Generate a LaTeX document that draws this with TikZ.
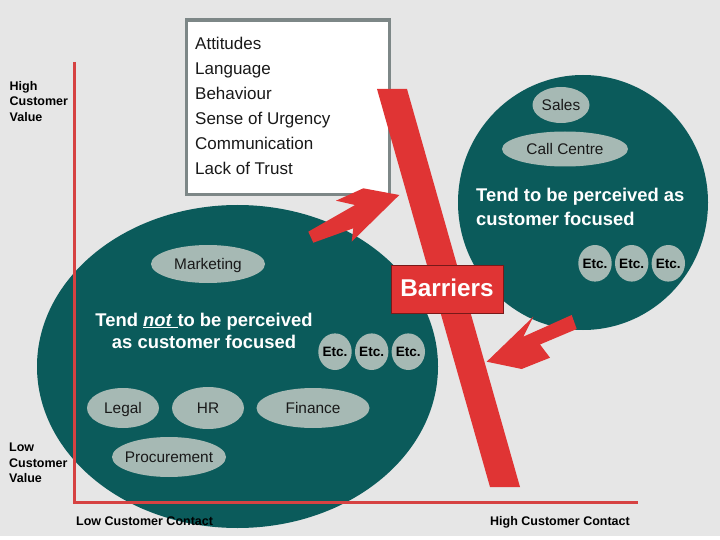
\documentclass[tikz,border=0pt]{standalone}
\usepackage{fontspec}
\setmainfont{Liberation Sans}
\usetikzlibrary{shapes.geometric}
\definecolor{bgc}{RGB}{230,230,230}
\definecolor{tealc}{RGB}{11,91,91}
\definecolor{pillc}{RGB}{166,185,180}
\definecolor{redc}{RGB}{224,52,52}
\definecolor{axisc}{RGB}{214,66,66}
\definecolor{boxc}{RGB}{125,135,135}
\definecolor{inkc}{RGB}{25,25,25}
\newcommand{\myfs}[1]{\fontsize{#1}{#1}\selectfont}
\newcommand{\zw}[1]{\makebox[0pt]{#1}}
\begin{document}
\begin{tikzpicture}[x=1pt,y=-1pt,
  pill/.style={ellipse, fill=pillc, inner sep=0pt, text=inkc,
    font=\myfs{15.4}, text height=11pt, text depth=0pt},
  etc/.style={ellipse, fill=pillc, inner sep=0pt, text=black,
    minimum width=33.4pt, minimum height=36.6pt,
    font=\myfs{13.6}\bfseries, text height=10pt, text depth=0pt},
  listtxt/.style={anchor=base west, inner sep=0pt, text=inkc, font=\myfs{17}},
  axtxt/.style={anchor=base west, inner sep=0pt, text=black, font=\myfs{12.5}\bfseries},
  bigtxt/.style={inner sep=0pt, text=white, font=\myfs{18.4}\bfseries},
  redarrow/.style={fill=redc}
]
\useasboundingbox (0,0) rectangle (720,540);
\fill[white] (0,0) rectangle (720,540);
\fill[bgc] (0,0) rectangle (720,536);

% big ellipse and right circle
\fill[tealc] (237.5,366.5) ellipse [x radius=200.5, y radius=161.5];
\fill[tealc] (583,202.5) ellipse [x radius=125, y radius=127.5];

% axes
\coordinate (ytop) at (74,62);
\coordinate (orig) at (74,502);
\coordinate (xend) at (638,502);
\draw[axisc, line width=3pt] (ytop) -- (orig) -- (xend);

% list box
\node[draw=boxc, line width=3.5pt, fill=white, minimum width=203pt, minimum height=174.5pt,
  inner sep=0pt, anchor=north west] (listbox) at (184.5,18.5) {};
\node[listtxt] (l1) at (195,50) {Attitudes};
\node[listtxt] (l2) at (195,75) {Language};
\node[listtxt] (l3) at (195,100) {Behaviour};
\node[listtxt] (l4) at (195,125) {Sense of Urgency};
\node[listtxt] (l5) at (195,150) {Communication};
\node[listtxt] (l6) at (195,175) {Lack of Trust};

% barrier bar
\fill[redc] (377,89) -- (407,89) -- (520,487) -- (490,487) -- cycle;

% arrows
\fill[redarrow] (308.3,231.7) -- (355,205) -- (336,200.7) -- (363.3,188.3) -- (399.3,195)
  -- (351.7,241.7) -- (353.3,228.3) -- (313.3,242.7) -- cycle;
\fill[redarrow] (571.7,315) -- (523.3,336.7) -- (533.3,316.7) -- (486.7,361.7)
  -- (521.7,369) -- (550,357.7) -- (540,344.5) -- (576.7,329) -- cycle;

% Barriers box
\node[draw={rgb,255:red,120;green,25;blue,25}, line width=0.8pt, fill=redc,
  minimum width=112pt, minimum height=48pt, inner sep=0pt] (barriers) at (447,289) {};
\node[anchor=base, inner sep=0pt, text=white, font=\myfs{24.3}\bfseries] (barrierstxt)
  at (447,296.7) {Barriers};

% left ellipse contents
\node[pill, minimum width=114pt, minimum height=38pt] (marketing) at (208,264) {\zw{Marketing}};
\node[bigtxt, anchor=base] (nt1) at (204,326) {Tend \underline{\textit{not} }to be perceived};
\node[bigtxt, anchor=base] (nt2) at (204,348.3) {as customer focused};
\node[etc] (le1) at (335,351.7) {\zw{Etc.}};
\node[etc] (le2) at (371.7,351.7) {\zw{Etc.}};
\node[etc] (le3) at (408.3,351.7) {\zw{Etc.}};
\node[pill, minimum width=72pt, minimum height=40pt] (legal) at (123,408) {\zw{Legal}};
\node[pill, minimum width=72pt, minimum height=42pt] (hr) at (208,408) {\zw{HR}};
\node[pill, minimum width=113pt, minimum height=40pt] (finance) at (313,408) {\zw{Finance}};
\node[pill, minimum width=114pt, minimum height=40pt] (procurement) at (169,457) {\zw{Procurement}};

% right circle contents
\node[pill, minimum width=57pt, minimum height=36pt] (sales) at (561,105) {\zw{Sales}};
\node[pill, minimum width=126pt, minimum height=35pt] (callcentre) at (565,149) {\zw{Call Centre}};
\node[bigtxt, anchor=base west] (t1) at (476,201.7) {Tend to be perceived as};
\node[bigtxt, anchor=base west] (t2) at (476,225.7) {customer focused};
\node[etc] (re1) at (595,263.3) {\zw{Etc.}};
\node[etc] (re2) at (631.7,263.3) {\zw{Etc.}};
\node[etc] (re3) at (668.3,263.3) {\zw{Etc.}};

% axis labels
\node[axtxt] (hv1) at (9.5,90.7) {High};
\node[axtxt] (hv2) at (9.5,106) {Customer};
\node[axtxt] (hv3) at (9.5,121.7) {Value};
\node[axtxt] (lv1) at (9,451.7) {Low};
\node[axtxt] (lv2) at (9,467) {Customer};
\node[axtxt] (lv3) at (9,482.7) {Value};
\node[axtxt] (lc) at (76,525) {Low Customer Contact};
\node[axtxt] (hc) at (490,525) {High Customer Contact};
\end{tikzpicture}
\end{document}
